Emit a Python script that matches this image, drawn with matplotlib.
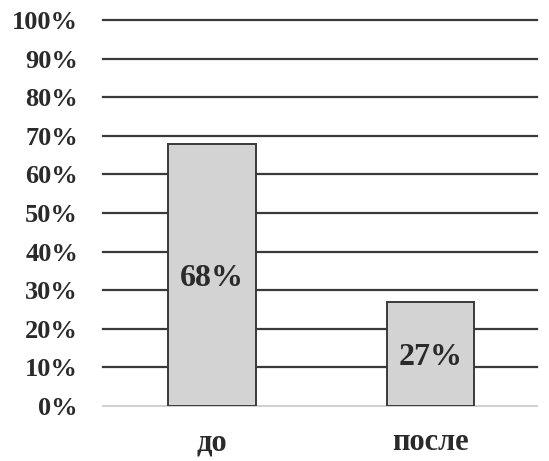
import matplotlib.pyplot as plt

categories = ['до', 'после']
values = [68, 27]
yticks = [0, 10, 20, 30, 40, 50, 60, 70, 80, 90, 100]

plt.rcParams['font.family'] = ['Liberation Serif', 'DejaVu Serif']
plt.rcParams['font.weight'] = 'bold'

fig = plt.figure(figsize=(5.49, 4.61), dpi=100)
ax = fig.add_axes([103/549, 55/461, 434/549, 386/461])

# --- Grille ---
for t in yticks:
    if t == 0:
        ax.axhline(t, color='#c8c8c8', lw=1.2, zorder=1, clip_on=False)
    else:
        ax.axhline(t, color='#3a3a3a', lw=1.6, zorder=1, clip_on=False)

# --- Barres ---
x = range(len(categories))
ax.bar(x, values, width=0.4, color='#d3d3d3', edgecolor='#3a3a3a', linewidth=1.4, zorder=2)
for i, v in enumerate(values):
    ax.text(i, v / 2 - 1, f'{v}%', ha='center', va='center', fontsize=23, fontweight='bold', color='#2a2a2a', zorder=3)

ax.set_xlim(-0.5, 1.49)
ax.set_ylim(0, 100)
ax.set_yticks(yticks)
ax.set_yticklabels([f'{t}%' for t in yticks], fontsize=19, fontweight='bold', color='#2a2a2a')
ax.set_xticks(list(x))
ax.set_xticklabels(categories, fontsize=22, fontweight='bold', color='#2a2a2a')
ax.tick_params(axis='y', length=0, pad=18)
ax.tick_params(axis='x', length=0, pad=16)
for s in ax.spines.values():
    s.set_visible(False)

fig.savefig('out.png', dpi=100)
